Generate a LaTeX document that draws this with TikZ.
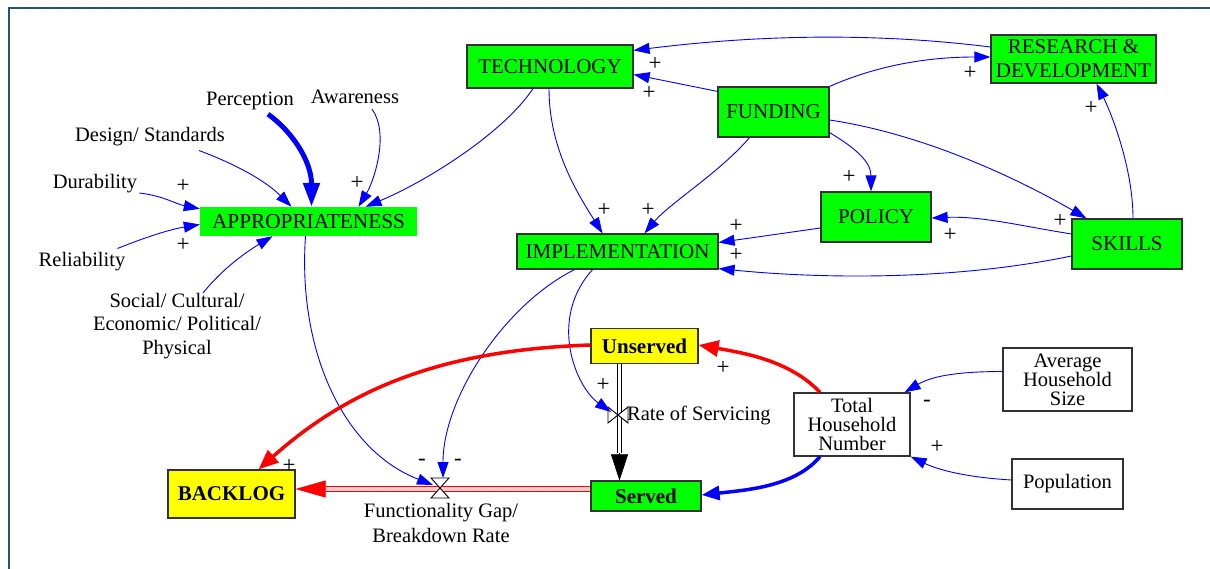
\documentclass[tikz,border=0pt]{standalone}
\usepackage{fontspec}
\setmainfont{Liberation Serif}
\usetikzlibrary{arrows.meta,calc}
\definecolor{vgreen}{RGB}{0,255,0}
\definecolor{vyellow}{RGB}{255,255,0}
\definecolor{framecol}{RGB}{38,86,110}
\definecolor{cblue}{RGB}{0,0,255}
\definecolor{bord}{RGB}{50,50,50}
\definecolor{pipein}{RGB}{255,205,205}
\begin{document}
\begin{tikzpicture}[x=1pt,y=-1pt,
  every node/.style={font=\fontsize{20.5}{22}\selectfont, inner sep=0pt},
  gbox/.style={draw=bord, line width=1.2pt, fill=vgreen, align=center, font=\fontsize{21}{22}\selectfont},
  abox/.style={fill=vgreen, align=center, font=\fontsize{21.3}{22}\selectfont},
  ybox/.style={draw=bord, line width=1.2pt, fill=vyellow, font=\fontsize{21}{22}\selectfont\bfseries},
  sbox/.style={draw=bord, line width=1.2pt, fill=vgreen, font=\fontsize{21}{22}\selectfont\bfseries},
  wbox/.style={draw=bord, line width=1.2pt, fill=white, align=center, font=\fontsize{20.5}{19}\selectfont},
  lbl/.style={align=center},
  sgn/.style={font=\fontsize{23}{23}\selectfont},
  conn/.style={draw=cblue, line width=0.9pt, -{Triangle[length=16pt,width=11pt]}},
  thickconn/.style={draw=cblue, line width=3.5pt, -{Triangle[length=18pt,width=14pt]}},
  perconn/.style={draw=cblue, line width=5pt, -{Triangle[length=24pt,width=16pt]}},
  redconn/.style={draw=red, line width=3.5pt, -{Triangle[length=20pt,width=16pt]}},
  blackpipe/.style={draw=black, line width=1.1pt, double=white, double distance=3.6pt},
  blacktip/.style={draw=black, line width=0.6pt, -{Triangle[length=26pt,width=17pt]}},
  redpipe/.style={draw=red, line width=1.1pt, double=pipein, double distance=3.6pt},
  redtip/.style={draw=red, line width=0.6pt, -{Triangle[length=30pt,width=17pt]}},
  valve/.style={draw=black, line width=0.9pt, fill=white}
]
\useasboundingbox (0,0) rectangle (1210,569);
% frame
\draw[framecol, line width=2.6pt] (9,569) -- (9,8) -- (1210,8);

% stocks / variables
\node[gbox, minimum width=166pt, minimum height=43pt] (tech) at (550,66.5) {TECHNOLOGY};
\node[gbox, minimum width=111pt, minimum height=50pt] (fund) at (773.5,112) {FUNDING};
\node[gbox, minimum width=165pt, minimum height=48pt, font=\fontsize{21}{24}\selectfont] (rd) at (1073.5,59) {RESEARCH \&\\DEVELOPMENT};
\node[gbox, minimum width=110pt, minimum height=50pt] (pol) at (876,217) {POLICY};
\node[gbox, minimum width=110pt, minimum height=50pt] (skl) at (1127,244) {SKILLS};
\node[gbox, minimum width=201pt, minimum height=35pt] (impl) at (617.5,251.5) {IMPLEMENTATION};
\node[abox, minimum width=217pt, minimum height=29pt] (appr) at (308.5,221.5) {APPROPRIATENESS};
\node[ybox, minimum width=107pt, minimum height=35pt] (unsv) at (644.5,346) {Unserved};
\node[sbox, minimum width=110pt, minimum height=30pt] (srv) at (646,496) {Served};
\node[ybox, minimum width=127pt, minimum height=48pt] (back) at (231.5,494) {BACKLOG};
\node[wbox, minimum width=116pt, minimum height=63pt] (tot) at (852,424.5) {Total\\Household\\Number};
\node[wbox, minimum width=129pt, minimum height=63pt] (avg) at (1067.5,379.5) {Average\\Household\\Size};
\node[wbox, minimum width=111pt, minimum height=50pt, font=\fontsize{20.5}{22}\selectfont] (pop) at (1067.5,484) {Population};

% text variables
\node (perc) at (250,101) {Perception};
\node (aw) at (355,97) {Awareness};
\node (des) at (150,137) {Design/ Standards};
\node (dur) at (95,184) {Durability};
\node (rel) at (82,262) {Reliability};
\node[lbl, font=\fontsize{20.5}{23.5}\selectfont] (soc) at (177,326) {Social/ Cultural/\\Economic/ Political/\\Physical};

% valves
\coordinate (rsv) at (618,415);
\coordinate (fgv) at (440,488);

% flows
\draw[blackpipe] ($(unsv.south)+(-25,0)$) -- ($(srv.north)+(-26.5,-27)$);
\draw[blacktip] ($(srv.north)+(-26.5,-27)$) -- ($(srv.north)+(-26.5,0)$);
\draw[redpipe] ($(srv.west)+(0,-7)$) -- ($(back.east)+(30,-5)$);
\draw[redtip] ($(back.east)+(30,-5)$) -- ($(back.east)+(0,-5)$);

\draw[valve] ($(rsv)+(-10,-8)$) -- ($(rsv)+(-10,8)$) -- ($(rsv)+(10,-8)$) -- ($(rsv)+(10,8)$) -- cycle;
\draw[valve] ($(fgv)+(-9,-10)$) -- ($(fgv)+(9,-10)$) -- ($(fgv)+(-9,10)$) -- ($(fgv)+(9,10)$) -- cycle;
\node[anchor=west] (rslbl) at (627,415) {Rate of Servicing};
\node[lbl, font=\fontsize{20.5}{25}\selectfont] (fglbl) at (441,523) {Functionality Gap/\\Breakdown Rate};

% connectors into APPROPRIATENESS
\draw[conn] ($(dur.east)+(2,9)$) .. controls +(25,3) and +(-25,-5) .. ($(appr.north west)+(0,2)$);
\draw[conn] ($(rel.north east)+(-8,-4)$) .. controls +(30,-12) and +(-30,5) .. ($(appr.west)+(0,3)$);
\draw[conn] ($(des.south)+(49,4)$) .. controls +(40,15) and +(-25,-25) .. ($(appr.north)+(-17,0)$);
\draw[perconn] ($(perc.south)+(18,4)$) .. controls +(25,18) and +(0,-45) .. ($(appr.north)+(3,0)$);
\draw[conn] ($(aw.south)+(17,5)$) .. controls +(18,25) and +(15,-25) .. ($(appr.north)+(50,0)$);
\draw[conn] ($(tech.south)+(-17,0)$) .. controls +(-30,45) and +(60,-25) .. ($(appr.north)+(57,0)$);
\draw[conn] ($(soc.north)+(26,0)$) .. controls +(20,-25) and +(-25,15) .. ($(appr.south)+(-36,0)$);
\draw[conn] ($(appr.south)+(-3,0)$) .. controls +(-8,114) and +(-90,-35) .. ($(fgv)+(-7,-3)$);

% top cluster
\draw[conn] ($(tech.south)+(-1,0)$) .. controls +(0,60) and +(-25,-40) .. ($(impl.north)+(-15,0)$);
\draw[conn] ($(fund.south)+(-24,0)$) .. controls +(-30,35) and +(25,-30) .. ($(impl.north)+(27,0)$);
\draw[conn] ($(fund.north west)+(0,5)$) -- ($(tech.east)+(0,8)$);
\draw[conn] ($(rd.west)+(0,-12)$) .. controls +(-120,-15) and +(120,-15) .. ($(tech.north east)+(0,6)$);
\draw[conn] (fund.north east) .. controls +(50,-22) and +(-60,0) .. ($(rd.west)+(0,-2)$);
\draw[conn] ($(fund.south east)+(0,-5)$) .. controls +(25,15) and +(0,-30) .. ($(pol.north)+(-5,0)$);
\draw[conn] ($(fund.east)+(0,8)$) .. controls +(100,15) and +(-60,-35) .. ($(skl.north west)+(15,0)$);
\draw[conn] ($(skl.north)+(6,0)$) .. controls +(0,-50) and +(15,30) .. ($(rd.south)+(23,0)$);
\draw[conn] ($(skl.west)+(0,-10)$) .. controls +(-50,-8) and +(50,-2) .. ($(pol.east)+(0,1)$);
\draw[conn] ($(pol.west)+(0,11)$) -- ($(impl.east)+(0,-9)$);
\draw[conn] ($(skl.west)+(0,12)$) .. controls +(-120,25) and +(100,10) .. ($(impl.south east)+(0,-1)$);

% implementation to valves
\draw[conn] ($(impl.south)+(-43,0)$) .. controls +(-70,35) and +(0,-80) .. ($(fgv)+(3,-10)$);
\draw[conn] ($(impl.south)+(-25,0)$) .. controls +(-45,50) and +(-35,-25) .. ($(rsv)+(-7,-3)$);

% stock-level connectors
\draw[redconn] ($(unsv.west)+(0,-1)$) .. controls +(-150,5) and +(90,-80) .. ($(back.north)+(27,0)$);
\draw[redconn] ($(tot.north)+(-32,0)$) .. controls +(-30,-32) and +(45,8) .. ($(unsv.east)+(0,-1)$);
\draw[thickconn] ($(tot.south)+(-32,0)$) .. controls +(-25,30) and +(45,-5) .. ($(srv.east)+(0,-1)$);
\draw[conn] ($(avg.west)+(0,-8)$) .. controls +(-50,0) and +(25,-15) .. ($(tot.north east)+(-6,0)$);
\draw[conn] ($(pop.west)+(0,-4)$) .. controls +(-50,-3) and +(25,12) .. (tot.south east);

% polarity signs
\node[sgn] (s1) at (183,186) {+};
\node[sgn] (s2) at (183,245) {+};
\node[sgn] (s3) at (357,183) {+};
\node[sgn] (s4) at (655,64) {+};
\node[sgn] (s5) at (649,93) {+};
\node[sgn] (s6) at (604,210) {+};
\node[sgn] (s7) at (648,210) {+};
\node[sgn] (s8) at (736,226) {+};
\node[sgn] (s9) at (736,255) {+};
\node[sgn] (s10) at (849,177) {+};
\node[sgn] (s11) at (970,73) {+};
\node[sgn] (s12) at (1091,108) {+};
\node[sgn] (s13) at (950,235) {+};
\node[sgn] (s14) at (1060,221) {+};
\node[sgn] (s15) at (723,368) {+};
\node[sgn] (s16) at (603,385) {+};
\node[sgn] (s17) at (289,466) {+};
\node[sgn] (s18) at (422,462) {-};
\node[sgn] (s19) at (458,462) {-};
\node[sgn] (s20) at (927,403) {-};
\node[sgn] (s21) at (937,447) {+};
\end{tikzpicture}
\end{document}
